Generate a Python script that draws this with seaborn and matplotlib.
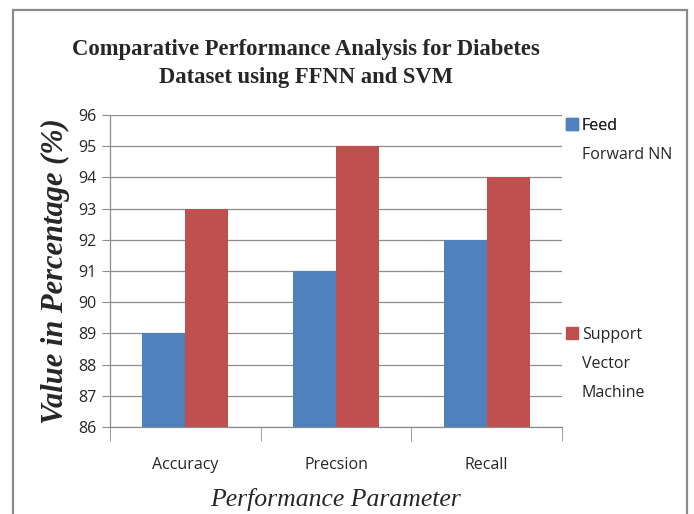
import pandas as pd
import numpy as np
import matplotlib
matplotlib.use('Agg')
import matplotlib.pyplot as plt
import matplotlib.patches as mpatches
import seaborn as sns

categories = ['Accuracy', 'Precsion', 'Recall']
ffnn = [89, 91, 92]
svm = [93, 95, 94]
series = ['Feed\nForward NN', 'Support\nVector\nMachine']
colors = ['#4F81BD', '#C0504D']

df = pd.DataFrame({
    'Parameter': categories * 2,
    'Value': ffnn + svm,
    'Model': [series[0]] * 3 + [series[1]] * 3,
})

sns.set_style('white')
plt.rcParams['font.family'] = ['Liberation Sans Narrow', 'Open Sans', 'DejaVu Sans']

fig = plt.figure(figsize=(6.94, 5.14), dpi=100)
ax = fig.add_axes([110 / 694, 1 - 427 / 514, 452 / 694, 312 / 514])

sns.barplot(data=df, x='Parameter', y='Value', hue='Model', palette=colors,
            width=0.57, saturation=1, linewidth=0, ax=ax, legend=False)

ax.set_ylim(86, 96)
ax.set_xlim(-0.5, 2.5)
ax.set_yticks(np.arange(86, 97, 1))
ax.grid(axis='y', color='#8c8c8c', linewidth=0.9)
ax.set_axisbelow(True)
for s in ['top', 'right']:
    ax.spines[s].set_visible(False)
for s in ['left', 'bottom']:
    ax.spines[s].set_color('#8c8c8c')
    ax.spines[s].set_linewidth(0.9)

ax.tick_params(axis='y', which='major', left=True, length=6, color='#8c8c8c',
               labelsize=11.5, pad=4)
ax.tick_params(axis='x', which='major', bottom=False, labelsize=11.5, pad=18)
ax.set_xticks([-0.5, 0.5, 1.5, 2.5], minor=True)
ax.tick_params(axis='x', which='minor', bottom=True, length=10, color='#8c8c8c')

ax.set_xlabel('Performance Parameter', family='Liberation Serif', style='italic',
              fontsize=18.5, labelpad=11)
ax.set_ylabel('Value in Percentage (%)', family='Liberation Serif', style='italic',
              weight='bold', fontsize=22, labelpad=6)

fig.text(0.441, 0.925, 'Comparative Performance Analysis for Diabetes\nDataset using FFNN and SVM',
         ha='center', va='top', family='Liberation Serif', weight='bold',
         fontsize=16.3, linespacing=1.45)

# legend: square marker beside the first line of each label, rest of lines below
legs = []
tops = [113, 322]
for i in range(2):
    lines = series[i].split('\n')
    h = mpatches.Patch(color=colors[i])
    leg = fig.legend([h], [lines[0]], loc='upper left',
                     bbox_to_anchor=(561 / 694, 1 - tops[i] / 514),
                     frameon=False, fontsize=11.5, handlelength=0.75, handleheight=0.75,
                     handletextpad=0.25, borderaxespad=0, borderpad=0.3)
    legs.append(leg)
fig.add_artist(legs[0])

fig.canvas.draw()
r = fig.canvas.get_renderer()
for i in range(2):
    lines = series[i].split('\n')
    bb = legs[i].get_texts()[0].get_window_extent(r)
    x0 = bb.x0 / fig.bbox.width
    y0 = bb.y0 / fig.bbox.height
    for k, ln in enumerate(lines[1:], start=1):
        fig.text(x0, y0 - k * 29 / 514, ln, fontsize=11.5, ha='left', va='bottom')

frame = mpatches.Rectangle((13 / 694, -0.02), 674 / 694, 1 - 10 / 514 + 0.02,
                           transform=fig.transFigure, fill=False,
                           edgecolor='#8a8a8a', linewidth=1.6)
fig.add_artist(frame)

fig.savefig('out.png', dpi=100)
